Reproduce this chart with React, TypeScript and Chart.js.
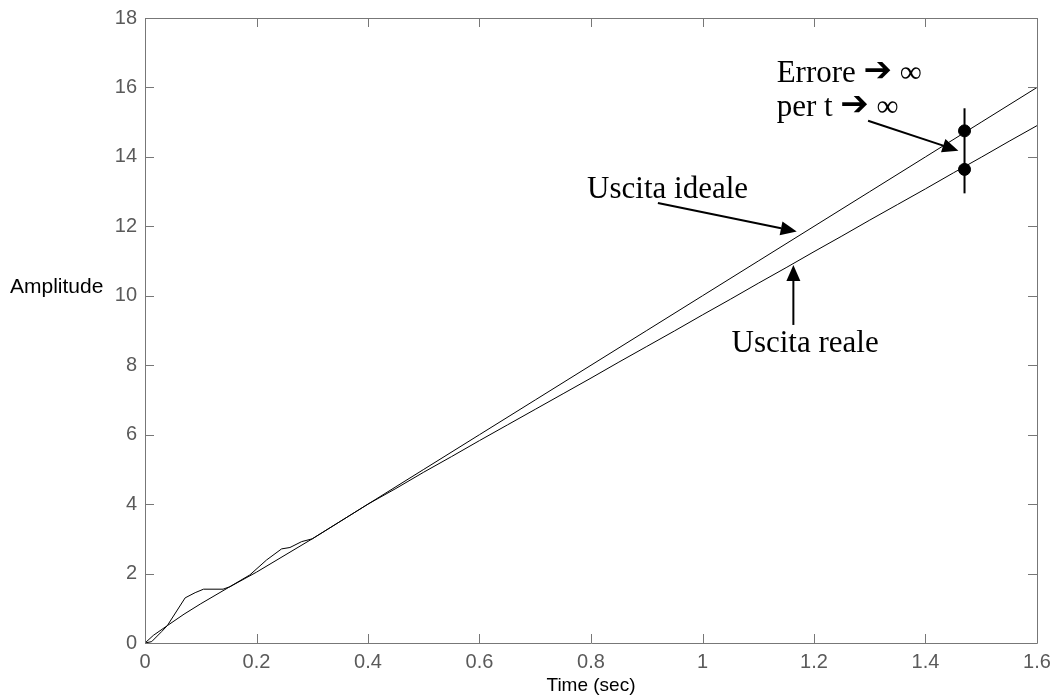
import React, { useEffect, useRef } from "react";
import { Chart, registerables } from "chart.js";

Chart.register(...registerables);

const idealTimes = [0, 0.015, 0.04, 0.07, 0.1, 0.15, 0.2, 0.3, 0.4, 0.5, 0.6, 0.7, 0.8, 0.9, 1.0, 1.1, 1.2, 1.3, 1.4, 1.5, 1.6];
const idealValues = [0, 0.22, 0.5, 0.83, 1.13, 1.6, 2.04, 3.0, 4.0, 5.0, 6.0, 7.0, 8.0, 9.0, 10.0, 11.0, 12.0, 13.0, 14.0, 15.0, 16.0];

const realTimes = [0, 0.012, 0.03, 0.04, 0.072, 0.09, 0.105, 0.14, 0.152, 0.188, 0.218, 0.245, 0.26, 0.281, 0.3, 0.35, 0.4, 0.45, 0.5, 0.55, 0.6, 0.65, 0.7, 0.75, 0.8, 0.85, 0.9, 0.95, 1.0, 1.05, 1.1, 1.15, 1.2, 1.25, 1.3, 1.35, 1.4, 1.45, 1.5, 1.55, 1.6];
const realValues = [0, 0.04, 0.33, 0.5, 1.3, 1.45, 1.55, 1.55, 1.62, 1.96, 2.39, 2.71, 2.75, 2.92, 3.0, 3.5, 4.0, 4.45, 4.92, 5.37, 5.83, 6.28, 6.73, 7.18, 7.63, 8.09, 8.54, 8.99, 9.45, 9.9, 10.36, 10.81, 11.27, 11.72, 12.18, 12.63, 13.08, 13.54, 13.99, 14.45, 14.9];

const markerTime = 1.47;
const markerValues = [14.75, 13.64];
const errorBarValues = [12.95, 15.4];

const xTicks = [0, 0.2, 0.4, 0.6, 0.8, 1.0, 1.2, 1.4, 1.6];
const yTicks = [0, 2, 4, 6, 8, 10, 12, 14, 16, 18];

// annotations in data coordinates; parts: [text, kind] kind: 0 serif, 1 arrow glyph, 2 infinity
const texts: { parts: [string, number][]; t: number; v: number }[] = [
  { parts: [["Errore ", 0], ["\u2794", 1], [" \u221E", 2]], t: 1.133, v: 16.15 },
  { parts: [["per t ", 0], ["\u2794", 1], [" \u221E", 2]], t: 1.133, v: 15.18 },
  { parts: [["Uscita ideale", 0]], t: 0.793, v: 12.81 },
  { parts: [["Uscita reale", 0]], t: 1.052, v: 8.39 },
];
const arrows = [
  { from: [0.92, 12.67], to: [1.169, 11.85] },
  { from: [1.163, 9.16], to: [1.163, 10.89] },
  { from: [1.297, 15.04], to: [1.459, 14.18] },
];

const FONTS = [
  "31px 'Liberation Serif', 'Times New Roman', serif",
  "34px 'DejaVu Sans', sans-serif",
  "31px 'Liberation Serif', 'Times New Roman', serif",
];

const boxPlugin = {
  id: "boxPlugin",
  afterDraw(chart: any) {
    const { ctx, chartArea } = chart;
    const { left, right, top, bottom } = chartArea;
    const xs = chart.scales.x;
    const ys = chart.scales.y;
    ctx.save();
    ctx.strokeStyle = "#777777";
    ctx.lineWidth = 1;
    ctx.beginPath();
    ctx.rect(left + 0.5, top + 0.5, right - left, bottom - top);
    ctx.stroke();
    const tl = 9;
    ctx.beginPath();
    for (const t of xTicks) {
      const px = Math.round(xs.getPixelForValue(t)) + 0.5;
      ctx.moveTo(px, bottom);
      ctx.lineTo(px, bottom - tl);
      ctx.moveTo(px, top);
      ctx.lineTo(px, top + tl);
    }
    for (const v of yTicks) {
      const py = Math.round(ys.getPixelForValue(v)) + 0.5;
      ctx.moveTo(left, py);
      ctx.lineTo(left + tl, py);
      ctx.moveTo(right, py);
      ctx.lineTo(right - tl, py);
    }
    ctx.stroke();

    // axis titles
    ctx.fillStyle = "#000";
    ctx.font = "21px 'Liberation Sans', Arial, sans-serif";
    ctx.textBaseline = "middle";
    ctx.textAlign = "left";
    ctx.fillText("Amplitude", 10, 287);
    ctx.font = "19px 'Liberation Sans', Arial, sans-serif";
    ctx.textAlign = "center";
    ctx.fillText("Time (sec)", (left + right) / 2, 686);

    // annotations
    ctx.textAlign = "left";
    ctx.textBaseline = "alphabetic";
    for (const tx of texts) {
      let x = xs.getPixelForValue(tx.t);
      const y = ys.getPixelForValue(tx.v);
      for (const [s, kind] of tx.parts) {
        ctx.font = FONTS[kind];
        ctx.fillText(s, x, kind === 1 ? y - 1 : y);
        x += ctx.measureText(s).width;
      }
    }
    ctx.strokeStyle = "#000";
    ctx.lineWidth = 2;
    for (const a of arrows) {
      const x1 = xs.getPixelForValue(a.from[0]);
      const y1 = ys.getPixelForValue(a.from[1]);
      const x2 = xs.getPixelForValue(a.to[0]);
      const y2 = ys.getPixelForValue(a.to[1]);
      const ang = Math.atan2(y2 - y1, x2 - x1);
      const hl = 16;
      const hw = 7;
      const bx = x2 - hl * Math.cos(ang);
      const by = y2 - hl * Math.sin(ang);
      ctx.beginPath();
      ctx.moveTo(x1, y1);
      ctx.lineTo(bx, by);
      ctx.stroke();
      ctx.beginPath();
      ctx.moveTo(x2, y2);
      ctx.lineTo(bx + hw * Math.sin(ang), by - hw * Math.cos(ang));
      ctx.lineTo(bx - hw * Math.sin(ang), by + hw * Math.cos(ang));
      ctx.closePath();
      ctx.fill();
    }
    ctx.restore();
  },
};

export default function App() {
  const ref = useRef<HTMLCanvasElement | null>(null);
  useEffect(() => {
    if (!ref.current) return;
    const chart = new Chart(ref.current, {
      type: "scatter",
      data: {
        datasets: [
          {
            data: idealTimes.map((t, i) => ({ x: t, y: idealValues[i] })),
            showLine: true,
            borderColor: "#000",
            borderWidth: 1,
            pointRadius: 0,
          },
          {
            data: realTimes.map((t, i) => ({ x: t, y: realValues[i] })),
            showLine: true,
            borderColor: "#000",
            borderWidth: 1,
            pointRadius: 0,
          },
          {
            data: errorBarValues.map((v) => ({ x: markerTime, y: v })),
            showLine: true,
            borderColor: "#000",
            borderWidth: 2,
            pointRadius: 0,
          },
          {
            data: markerValues.map((v) => ({ x: markerTime, y: v })),
            showLine: false,
            backgroundColor: "#000",
            borderColor: "#000",
            pointRadius: 6,
          },
        ],
      },
      options: {
        responsive: false,
        animation: false,
        devicePixelRatio: 1,
        layout: { padding: { left: 0, top: 18, right: 18, bottom: 0 } },
        plugins: { legend: { display: false }, tooltip: { enabled: false } },
        scales: {
          x: {
            type: "linear",
            min: 0,
            max: 1.6,
            afterFit: (s: any) => { s.height = 54; s.paddingLeft = 0; s.paddingRight = 0; },
            afterBuildTicks: (s: any) => { s.ticks = xTicks.map((v) => ({ value: v })); },
            grid: { display: false, drawTicks: false },
            border: { display: false },
            ticks: {
              padding: 7,
              color: "#5a5a5a",
              font: { family: "'Liberation Sans', Arial, sans-serif", size: 20 },
              callback: (v: any) => String(Number(Number(v).toFixed(1))),
              maxRotation: 0,
            },
          },
          y: {
            type: "linear",
            min: 0,
            max: 18,
            afterFit: (s: any) => { s.width = 145; s.paddingTop = 0; s.paddingBottom = 0; },
            afterBuildTicks: (s: any) => { s.ticks = yTicks.map((v) => ({ value: v })); },
            grid: { display: false, drawTicks: false },
            border: { display: false },
            ticks: {
              padding: 8,
              color: "#5a5a5a",
              font: { family: "'Liberation Sans', Arial, sans-serif", size: 20 },
              callback: (v: any) => String(v),
            },
          },
        },
      },
      plugins: [boxPlugin],
    } as any);
    return () => chart.destroy();
  }, []);
  return (
    <div style={{ position: "absolute", left: 0, top: 0, width: 1055, height: 697, background: "#fff" }}>
      <canvas ref={ref} width={1055} height={697} />
    </div>
  );
}
